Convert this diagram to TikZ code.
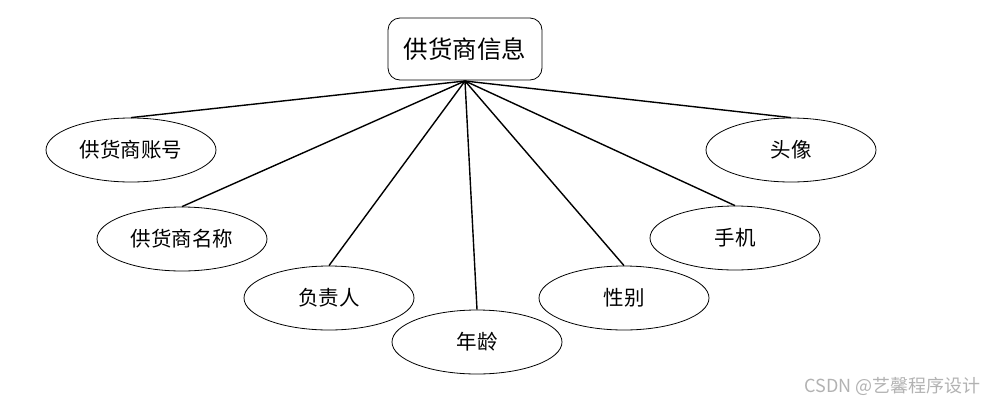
\documentclass[tikz,border=0pt]{standalone}
\usepackage{fontspec}
\newfontfamily\cjk{Noto Sans CJK SC}
\usetikzlibrary{shapes.geometric}
\begin{document}
\begin{tikzpicture}[x=1pt,y=-1pt,
  attr/.style={draw, ellipse, line width=0.8pt, minimum width=170pt, minimum height=64pt, inner sep=0pt, font=\cjk\fontsize{20.5}{20.5}\selectfont},
  entity/.style={draw, rounded corners=12pt, line width=0.8pt, minimum width=154pt, minimum height=62pt, inner sep=0pt, font=\cjk\fontsize{24.5}{24.5}\selectfont},
  link/.style={line width=1.4pt}]
\useasboundingbox (0,0) rectangle (989,405);
\node[entity] (e) at (465,49) {供货商信息};
\coordinate (hub) at (465,81);
\node[attr] (a1) at (131,150) {供货商账号};
\node[attr] (a2) at (182,239) {供货商名称};
\node[attr] (a3) at (329,298) {负责人};
\node[attr] (a4) at (477,342) {年龄};
\node[attr] (a5) at (624,298) {性别};
\node[attr] (a6) at (735,238) {手机};
\node[attr] (a7) at (791,150) {头像};
\foreach \n in {a1,a2,a3,a4,a5,a6,a7} \draw[link] (hub) -- (\n.north);
\node[text=black!30, anchor=east, font=\cjk\fontsize{18}{18}\selectfont] (wm) at (984,386) {CSDN @艺馨程序设计};
\end{tikzpicture}
\end{document}
